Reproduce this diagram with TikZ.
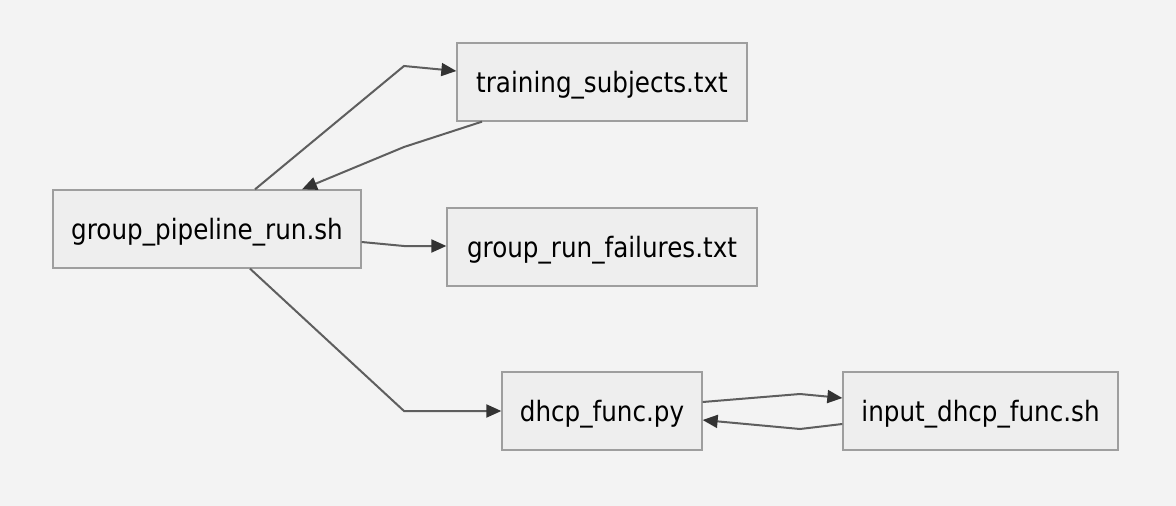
\documentclass[tikz,border=0pt]{standalone}
\usepackage{fontspec}
\setmainfont{DejaVu Sans}[FakeStretch=0.88]
\usetikzlibrary{arrows.meta}
\definecolor{bg}{HTML}{F3F3F3}
\definecolor{boxfill}{HTML}{EEEEEE}
\definecolor{boxline}{HTML}{9E9E9E}
\definecolor{edge}{HTML}{5E5E5E}
\definecolor{tip}{HTML}{333333}
\begin{document}
\begin{tikzpicture}[x=1pt,y=-1pt,
  filebox/.style={draw=boxline,fill=boxfill,line width=1.3pt,minimum height=78pt,inner sep=0pt,text height=26pt,text depth=5.4pt,font=\fontsize{28}{32}\selectfont,text=black},
  link/.style={draw=edge,line width=2pt,-{Triangle[length=15pt,width=13pt,color=tip]}}]
\fill[bg] (0,0) rectangle (1176,506);
\useasboundingbox (0,0) rectangle (1176,506);
\node[filebox,minimum width=308pt] (gp) at (207,229) {group\_pipeline\_run.sh};
\node[filebox,minimum width=290pt] (ts) at (602,82) {training\_subjects.txt};
\node[filebox,minimum width=310pt] (gf) at (602,247) {group\_run\_failures.txt};
\node[filebox,minimum width=200pt] (dh) at (602,411) {dhcp\_func.py};
\node[filebox,minimum width=275pt] (in) at (980.5,411) {input\_dhcp\_func.sh};
\coordinate (a1) at (404,66);
\coordinate (a2) at (404,147);
\coordinate (a3) at (404,246);
\coordinate (a4) at (404,411);
\coordinate (a5) at (800,394);
\coordinate (a6) at (800,429);
\draw[link] (gp.north -| 255,0) -- (a1) -- (ts.west |- 0,71);
\draw[link] (ts.south -| 482,0) -- (a2) -- (gp.north -| 302,0);
\draw[link] (gp.east |- 0,242) -- (a3) -- (gf.west |- 0,246);
\draw[link] (gp.south -| 250,0) -- (a4) -- (dh.west);
\draw[link] (dh.east |- 0,402) -- (a5) -- (in.west |- 0,398);
\draw[link] (in.west |- 0,424) -- (a6) -- (dh.east |- 0,420);
\end{tikzpicture}
\end{document}
